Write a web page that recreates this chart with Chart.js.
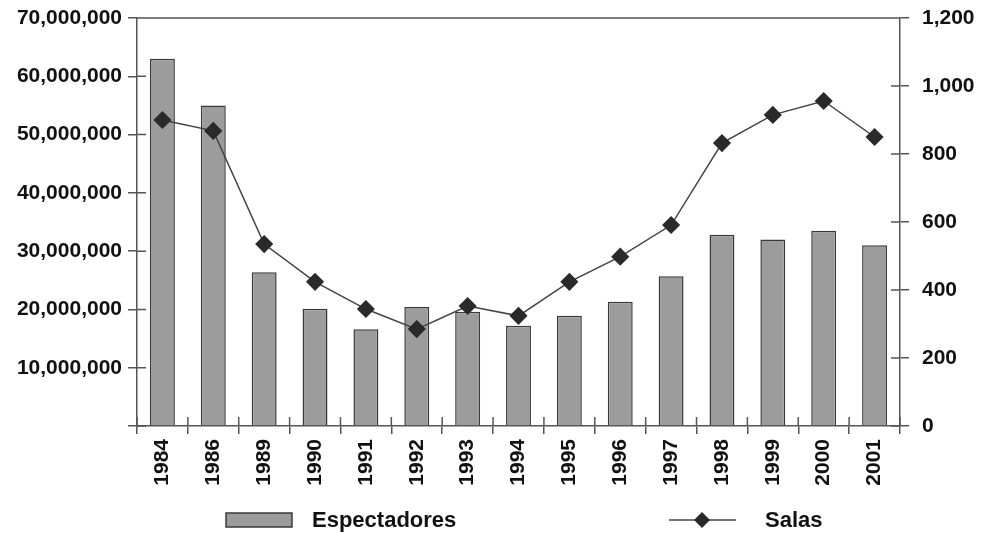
<!DOCTYPE html>
<html>
<head>
<meta charset="utf-8">
<script src="https://cdn.jsdelivr.net/npm/chart.js@4/dist/chart.umd.min.js"></script>
<style>
  html, body { margin: 0; padding: 0; background: #fff; }
  canvas { display: block; }
</style>
</head>
<body>
<canvas id="chart" width="984" height="533"></canvas>
<script>
const years = ['1984', '1986', '1989', '1990', '1991', '1992', '1993', '1994',
  '1995', '1996', '1997', '1998', '1999', '2000', '2001'];

// espectadores (eje izquierdo)
const espectadores = [63000000, 55000000, 26400000, 20100000, 16600000, 20400000,
  19600000, 17200000, 18900000, 21300000, 25700000, 32800000, 32000000, 33500000, 31000000];

// salas (eje derecho)
const salas = [900, 868, 535, 424, 344, 285, 353, 324, 424, 498, 591, 832, 915, 956, 850];

const leftTicks = { min: 0, max: 70000000, step: 10000000 };
const rightTicks = { min: 0, max: 1200, step: 200 };

const FONT = 'Liberation Sans';
const axisColor = '#555';
const barFill = '#9c9c9c';
const barBorder = '#3a3a3a';
const lineColor = '#444';
const markerColor = '#2a2a2a';

// marcas que cruzan el eje + borde superior + leyenda
const extrasPlugin = {
  id: 'extras',
  afterDraw(chart) {
    const c = chart.ctx;
    const a = chart.chartArea;
    c.save();
    c.strokeStyle = axisColor;
    c.lineWidth = 1.5;
    c.beginPath();
    c.moveTo(a.left, a.top);
    c.lineTo(a.right, a.top);

    const yL = chart.scales.y;
    yL.ticks.forEach((t, i) => {
      const p = yL.getPixelForTick(i);
      c.moveTo(a.left, p);
      c.lineTo(a.left + 9, p);
    });
    const yR = chart.scales.y1;
    yR.ticks.forEach((t, i) => {
      const p = yR.getPixelForTick(i);
      c.moveTo(a.right - 9, p);
      c.lineTo(a.right, p);
    });
    const w = (a.right - a.left) / years.length;
    for (let i = 0; i <= years.length; i++) {
      const p = a.left + i * w;
      c.moveTo(p, a.bottom - 9);
      c.lineTo(p, a.bottom);
    }
    c.stroke();

    // leyenda
    const ly = 520;
    c.fillStyle = barFill;
    c.strokeStyle = barBorder;
    c.lineWidth = 1.5;
    c.fillRect(226, ly - 7, 66, 14);
    c.strokeRect(226, ly - 7, 66, 14);
    c.fillStyle = '#111';
    c.font = 'bold 22px "' + FONT + '"';
    c.textBaseline = 'middle';
    c.fillText(chart.data.datasets[0].label, 312, ly + 1);

    c.strokeStyle = lineColor;
    c.beginPath();
    c.moveTo(669, ly);
    c.lineTo(736, ly);
    c.stroke();
    c.fillStyle = markerColor;
    c.beginPath();
    c.moveTo(702, ly - 8);
    c.lineTo(710, ly);
    c.lineTo(702, ly + 8);
    c.lineTo(694, ly);
    c.closePath();
    c.fill();
    c.fillStyle = '#111';
    c.fillText(chart.data.datasets[1].label, 765, ly + 1);
    c.restore();
  }
};

const tickFont = { family: FONT, size: 21, weight: 'bold' };

new Chart(document.getElementById('chart'), {
  data: {
    labels: years,
    datasets: [
      {
        type: 'bar',
        label: 'Espectadores',
        data: espectadores,
        yAxisID: 'y',
        backgroundColor: barFill,
        borderColor: barBorder,
        borderWidth: 1.5,
        barPercentage: 0.49,
        categoryPercentage: 1,
        order: 1
      },
      {
        type: 'line',
        label: 'Salas',
        data: salas,
        yAxisID: 'y1',
        borderColor: lineColor,
        borderWidth: 1.5,
        pointStyle: 'rectRot',
        pointRadius: 8,
        pointBackgroundColor: markerColor,
        pointBorderColor: markerColor,
        tension: 0,
        order: 0
      }
    ]
  },
  options: {
    responsive: false,
    animation: false,
    layout: { padding: { top: 18, left: 0, right: 0, bottom: 0 } },
    plugins: {
      legend: { display: false },
      tooltip: { enabled: false }
    },
    scales: {
      x: {
        offset: true,
        grid: { offset: true, drawOnChartArea: false, tickLength: 8, color: axisColor, lineWidth: 1.5 },
        border: { color: axisColor, width: 1.5 },
        ticks: { minRotation: 90, maxRotation: 90, font: tickFont, color: '#111', padding: 5 },
        afterFit: s => { s.height = 107; s.paddingLeft = 0; s.paddingRight = 0; }
      },
      y: {
        position: 'left',
        min: leftTicks.min,
        max: leftTicks.max,
        grid: { drawOnChartArea: false, tickLength: 9, color: axisColor, lineWidth: 1.5 },
        border: { color: axisColor, width: 1.5 },
        ticks: {
          stepSize: leftTicks.step,
          font: tickFont,
          color: '#111',
          padding: 6,
          callback: v => v === 0 ? '' : v.toLocaleString('en-US')
        },
        afterFit: s => { s.width = 137; s.paddingTop = 0; s.paddingBottom = 0; }
      },
      y1: {
        position: 'right',
        min: rightTicks.min,
        max: rightTicks.max,
        grid: { drawOnChartArea: false, tickLength: 9, color: axisColor, lineWidth: 1.5 },
        border: { color: axisColor, width: 1.5 },
        ticks: {
          stepSize: rightTicks.step,
          font: tickFont,
          color: '#111',
          padding: 13,
          callback: v => v.toLocaleString('en-US')
        },
        afterFit: s => { s.width = 84; s.paddingTop = 0; s.paddingBottom = 0; }
      }
    }
  },
  plugins: [extrasPlugin]
});
</script>
</body>
</html>
